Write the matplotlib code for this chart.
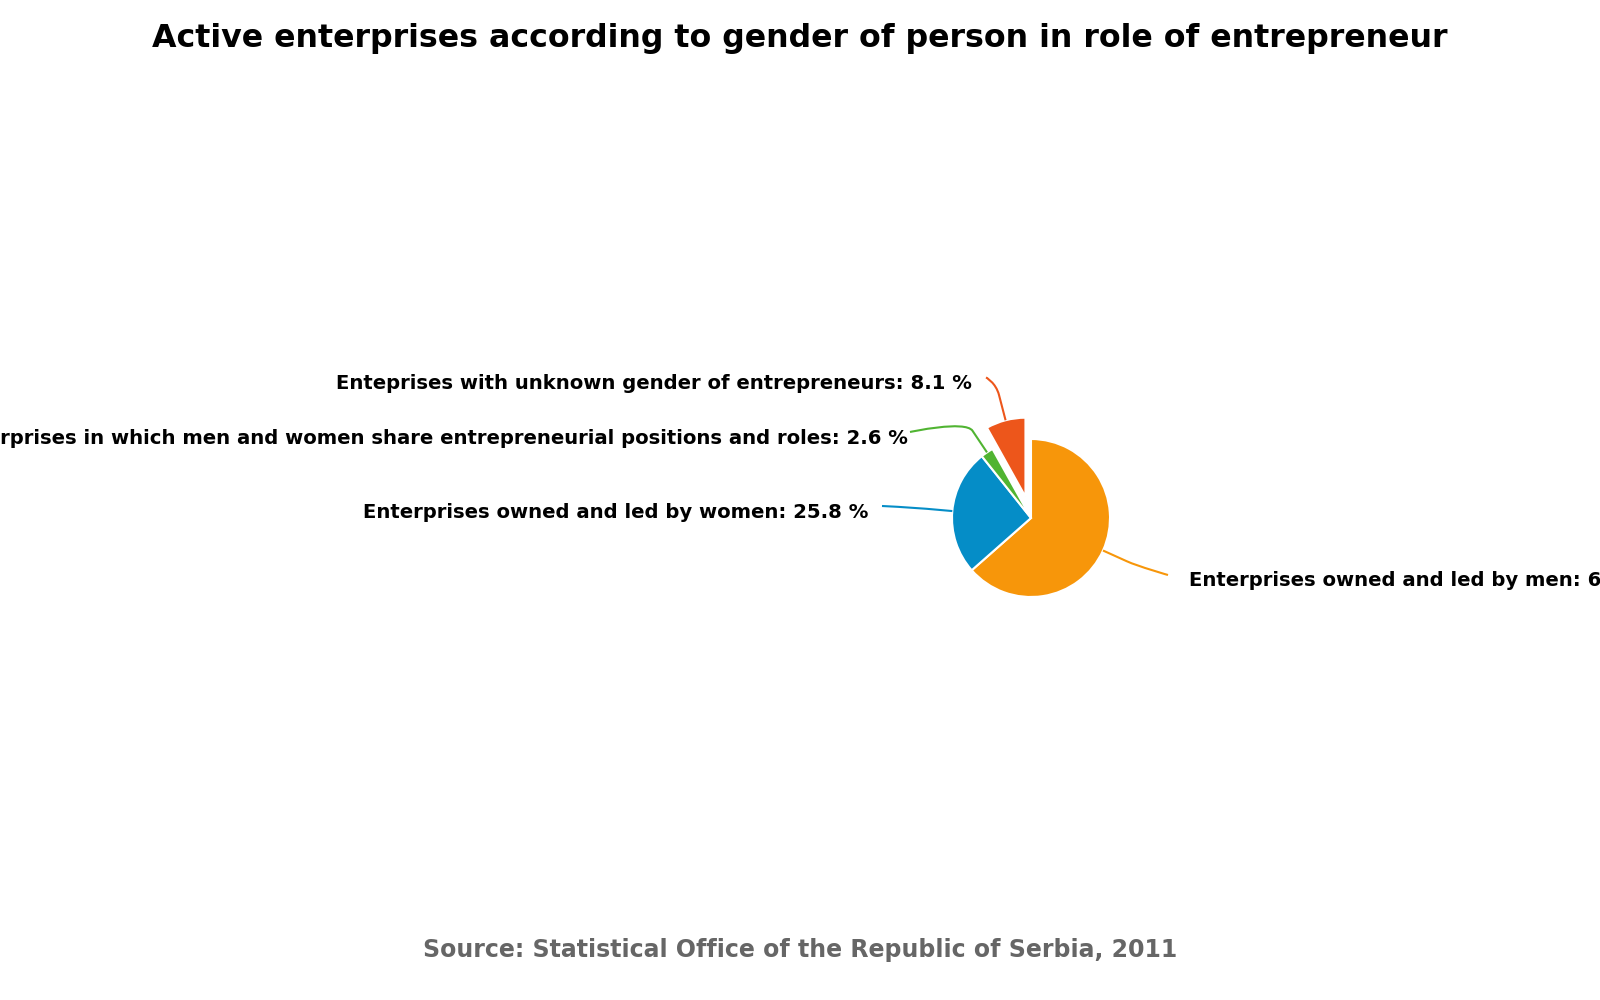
import numpy as np
import matplotlib.pyplot as plt
from matplotlib.path import Path
from matplotlib.patches import PathPatch

# data
labels = [
    "Enterprises owned and led by men",
    "Enterprises owned and led by women",
    "Enterprises in which men and women share entrepreneurial positions and roles",
    "Enteprises with unknown gender of entrepreneurs",
]
shares = [63.5, 25.8, 2.6, 8.1]
colors = ["#F7960A", "#058DC7", "#50B432", "#ED561B"]
title = "Active enterprises according to gender of person in role of entrepreneur"
source = "Source: Statistical Office of the Republic of Serbia, 2011"

# layout (image pixels, y from top)
W, H = 1600, 1000
cx, cy = 1031, 518
radius = 79
explode = [0, 0, 0, 22]
brk_dist = 26
conn_end = [(1168, 575), (882, 506), (910, 432), (986, 377.5)]
text_x = [1189, 868, 908, 972]
text_ha = ["left", "right", "right", "right"]


def flip(y):
    return H - y


fig = plt.figure(figsize=(16, 10), dpi=100)
ax = fig.add_axes([0, 0, 1, 1])

ax.pie(shares, colors=colors, startangle=90, counterclock=False,
       center=(cx, flip(cy)), radius=radius, explode=explode,
       wedgeprops=dict(edgecolor="white", linewidth=1.5))
ax.set_xlim(0, W)
ax.set_ylim(0, H)
ax.set_aspect("equal")
ax.axis("off")

# connectors + labels
fracs = np.array(shares) / sum(shares)
start = np.concatenate([[0], np.cumsum(fracs)[:-1]])
for i, lab in enumerate(labels):
    th = np.deg2rad(90 - 360 * (start[i] + fracs[i] / 2))
    d = np.array([np.cos(th), np.sin(th)])
    c0 = np.array([cx, flip(cy)]) + explode[i] * d
    touch = c0 + radius * d
    brk = c0 + (radius + brk_dist) * d
    end = np.array([conn_end[i][0], flip(conn_end[i][1])])
    verts = [end, end, brk + 0.5 * (brk - touch), brk, touch]
    codes = [Path.MOVETO, Path.CURVE4, Path.CURVE4, Path.CURVE4, Path.LINETO]
    ax.add_patch(PathPatch(Path(verts, codes), facecolor="none",
                           edgecolor=colors[i], lw=1.5, clip_on=False))
    ax.text(text_x[i], flip(conn_end[i][1] + 11.5), f"{lab}: {shares[i]:.1f} %",
            ha=text_ha[i], va="baseline", fontsize=14.1, fontweight="bold",
            color="black", family="DejaVu Sans")

fig.text(0.5, 1 - 47 / H, title, ha="center", va="baseline",
         fontsize=22.8, fontweight="bold", color="black")
fig.text(0.5, 1 - 957.5 / H, source, ha="center", va="baseline",
         fontsize=17, fontweight="bold", color="#666666")

fig.savefig("out.png", dpi=100, facecolor="white")
